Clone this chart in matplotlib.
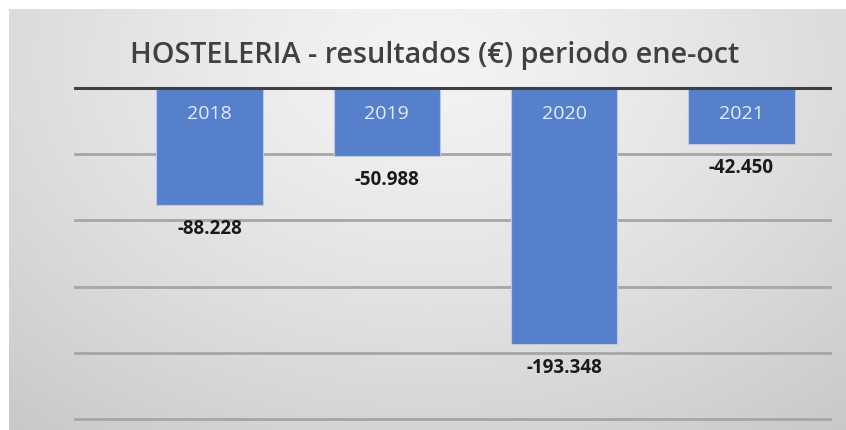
import numpy as np
import matplotlib
matplotlib.use("Agg")
import matplotlib.pyplot as plt

years = ["2018", "2019", "2020", "2021"]
resultados = [-88228, -50988, -193348, -42450]
title = "HOSTELERIA - resultados (€) periodo ene-oct"

W, H = 846, 430
fig = plt.figure(figsize=(W / 100, H / 100), dpi=100)
fig.patch.set_facecolor("white")

# background gradient panel
bx0, by0 = 9, 9
bg = fig.add_axes([bx0 / W, 0, 1 - bx0 / W, 1 - by0 / H])
yy, xx = np.mgrid[0:1:200j, 0:1:400j]
d = np.sqrt(((xx - 0.5) / 0.75) ** 2 + ((yy - 0.12) / 1.1) ** 2)
val = 0.955 - 0.16 * np.clip(d, 0, 1.2) ** 1.3
rgb = np.dstack([val, val, val])
bg.imshow(rgb, aspect="auto", extent=[0, 1, 0, 1], origin="upper")
bg.set_axis_off()

# plot area: zero line at y=88, -250000 at y=419; x from 75 to 830
ax_left, ax_right = 75, 830
ax_top, ax_bot = 88, 419
ax = fig.add_axes([ax_left / W, 1 - ax_bot / H, (ax_right - ax_left) / W, (ax_bot - ax_top) / H])
ax.set_facecolor("none")
x = np.arange(len(years))
step = 177.3
ax.set_xlim(-0.5 - (121 - ax_left) / step, 3.5)
ax.set_ylim(-250000, 0)

for gy in [-50000, -100000, -150000, -200000, -250000]:
    ax.axhline(gy, color="#a6a6a6", lw=2.0, zorder=1, clip_on=False)

bars = ax.bar(x, resultados, width=0.6, color="#5680cc", edgecolor="#b8c9ea", linewidth=0.8, zorder=2)
ax.axhline(0, color="#404040", lw=2.2, zorder=3, clip_on=False)

for xi, yr, v in zip(x, years, resultados):
    ax.annotate(yr, (xi, 0), xytext=(0, -26), textcoords="offset pixels",
                ha="center", va="center", color="#e8eefa", fontsize=14,
                family="Open Sans", zorder=4)
    lab = f"{v:,.0f}".replace(",", ".")
    ax.annotate(lab, (xi, v), xytext=(0, -24), textcoords="offset pixels",
                ha="center", va="center", color="#1a1a1a", fontsize=13.5,
                fontweight="bold", family="Open Sans", zorder=4)

for s in ax.spines.values():
    s.set_visible(False)
ax.set_xticks([])
ax.set_yticks([])

fig.text(130 / W, 1 - 55 / H, title, ha="left", va="center", fontsize=20.7,
         color="#404040", family="Open Sans", fontweight="semibold")

fig.savefig("out.png", dpi=100)
